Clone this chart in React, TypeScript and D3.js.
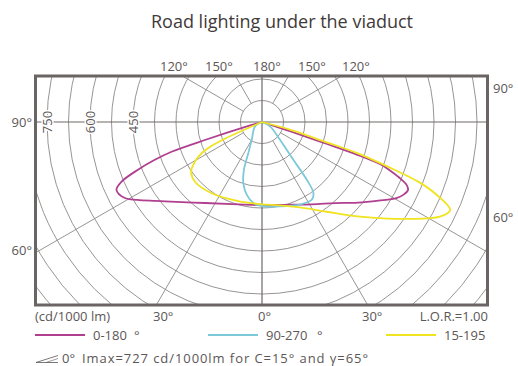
import * as d3 from 'd3';

// polar intensity data, gamma in degrees from nadir, intensity in cd/1000lm
const magLeftGamma = [0, 20, 35, 45, 53.5, 58, 61, 65, 67, 69, 70.5, 71.8, 72.5, 73.8, 75];
const magLeftI = [290, 305, 345, 395, 463, 513, 547, 560, 532, 462, 400, 332, 209, 37, 0];
const magRightGamma = [0, 15, 31, 42, 50, 56, 60.5, 63, 65, 66.5, 68, 69.5, 70.3, 71, 71.3, 71.8, 73];
const magRightI = [292, 299, 335, 381, 437, 490, 539, 556, 562, 550, 515, 470, 442, 354, 231, 108, 0];

const cyanLeftGamma = [0, 6.1, 11.9, 17, 20.7, 23.8, 30.2, 57.8, 70];
const cyanLeftI = [293, 284, 259, 223, 178, 118, 71, 29, 0];
const cyanRightGamma = [0, 12, 24.7, 32.6, 35.9, 37.8, 39.7, 45.5, 61.2, 70];
const cyanRightI = [293, 301, 317, 322, 306, 255, 171, 88, 32, 0];

const yelLeftGamma = [0, 16.7, 35.2, 48.3, 55, 58, 60.5, 62.6, 64.3, 65.7, 66];
const yelLeftI = [287, 288, 304, 313, 302, 283, 262, 237, 205, 150, 0];
const yelRightGamma = [0, 12, 24, 35.8, 46, 56.8, 62, 64.9, 67.6, 69.1, 70.3, 71.9, 72.6, 74.7, 76];
const yelRightI = [290, 297, 326, 386, 475, 617, 703, 725, 652, 583, 479, 352, 229, 106, 0];

const ringValues = d3.range(75, 1126, 75);
const ringLabels = [450, 600, 750];
const spokeAngles = [30, 60, 120, 150];

const legendItems = [
  { name: '0-180', deg: true, color: '#b0408f' },
  { name: '90-270', deg: true, color: '#7ec9d9' },
  { name: '15-195', deg: false, color: '#f0e31f' },
];

const W = 518;
const H = 366;
const box = { x0: 35.5, y0: 76, x1: 487.5, y1: 305 };
const cx = 262;
const cy = 122;
const rad = Math.PI / 180;
const textColor = '#5c5656';
const font = '"Open Sans", sans-serif';

const rScale = d3.scaleLinear().domain([0, 750]).range([0, 215]);

type Pt = { a: number; v: number };

function buildCurve(lg: number[], li: number[], rg: number[], ri: number[]): Pt[] {
  const left = lg.map((g, i) => ({ a: Math.PI + g * rad, v: li[i] })).reverse();
  const right = rg.slice(1).map((g, i) => ({ a: Math.PI - g * rad, v: ri[i + 1] }));
  return [...left, ...right];
}

const radial = d3.lineRadial<Pt>()
  .angle(d => d.a)
  .radius(d => rScale(d.v))
  .curve(d3.curveCatmullRom.alpha(0.5));

const curves = [
  { color: legendItems[0].color, pts: buildCurve(magLeftGamma, magLeftI, magRightGamma, magRightI) },
  { color: legendItems[1].color, pts: buildCurve(cyanLeftGamma, cyanLeftI, cyanRightGamma, cyanRightI) },
  { color: legendItems[2].color, pts: buildCurve(yelLeftGamma, yelLeftI, yelRightGamma, yelRightI) },
];

export default function App() {
  const legendX = [35, 208, 386];
  return (
    <svg width={W} height={H} style={{ position: 'absolute', left: 0, top: 0 }} fontFamily={font}>
      <defs>
        <clipPath id="boxclip">
          <rect x={box.x0} y={box.y0} width={box.x1 - box.x0} height={box.y1 - box.y0} />
        </clipPath>
      </defs>
      <text x={282} y={28} textAnchor="middle" fontSize={18} fill="#3f3a3a">Road lighting under the viaduct</text>

      <g clipPath="url(#boxclip)">
        {ringValues.map(v => (
          <circle key={v} cx={cx} cy={cy} r={rScale(v)} fill="none" stroke="#8c8888" strokeWidth={0.9} />
        ))}
        {spokeAngles.flatMap(g => [-1, 1].map(s => (
          <line key={g + '_' + s}
            x1={cx + s * rScale(75) * Math.sin(g * rad)} y1={cy + rScale(75) * Math.cos(g * rad)}
            x2={cx + s * rScale(1200) * Math.sin(g * rad)} y2={cy + rScale(1200) * Math.cos(g * rad)}
            stroke="#8c8888" strokeWidth={0.9} />
        )))}
        <line x1={box.x0} x2={box.x1} y1={cy} y2={cy} stroke="#6e6868" strokeWidth={1.2} />
        <line x1={cx} x2={cx} y1={box.y0} y2={box.y1} stroke="#6e6868" strokeWidth={1.2} />
        {ringLabels.map(v => (
          <text key={v} transform={`translate(${cx - rScale(v)},${cy}) rotate(-90)`} textAnchor="middle"
            dominantBaseline="central" fontSize={13} fill={textColor}
            stroke="#fff" strokeWidth={3} paintOrder="stroke">{v}</text>
        ))}
        <g transform={`translate(${cx},${cy})`}>
          {curves.map((c, i) => (
            <path key={i} d={radial(c.pts) || ''} fill="none" stroke={c.color} strokeWidth={1.8} strokeLinejoin="round" />
          ))}
        </g>
      </g>
      <rect x={box.x0} y={box.y0} width={box.x1 - box.x0} height={box.y1 - box.y0} fill="none" stroke="#6b6464" strokeWidth={3} />

      <g fontSize={13} fill={textColor}>
        <text x={160} y={71}>120°</text>
        <text x={205} y={71}>150°</text>
        <text x={253} y={71}>180°</text>
        <text x={298} y={71}>150°</text>
        <text x={342} y={71}>120°</text>
        <text x={32} y={127} textAnchor="end">90°</text>
        <text x={32} y={255} textAnchor="end">60°</text>
        <text x={493} y={93}>90°</text>
        <text x={493} y={222}>60°</text>
        <text x={35} y={321}>(cd/1000 lm)</text>
        <text x={153} y={321}>30°</text>
        <text x={258} y={321}>0°</text>
        <text x={362} y={321}>30°</text>
        <text x={488} y={321} textAnchor="end">L.O.R.=1.00</text>
      </g>

      {legendItems.map((d, i) => (
        <g key={d.name} fontSize={13} fill={textColor}>
          <line x1={legendX[i]} x2={legendX[i] + 50} y1={335} y2={335} stroke={d.color} strokeWidth={2} />
          <text x={legendX[i] + 58} y={340}>{d.name}</text>
          {d.deg && <text x={legendX[i] + (i === 0 ? 99 : 109)} y={340}>°</text>}
        </g>
      ))}

      <g fill={textColor} fontSize={13}>
        <path d="M58,355.5 L36,362.5 L58,362.5" fill="none" stroke={textColor} strokeWidth={0.8} />
        <path d="M46,362.5 L58,358.5" fill="none" stroke={textColor} strokeWidth={0.6} />
        <text x={62} y={363}>0°</text>
        <text x={82} y={363} textLength={286} lengthAdjust="spacing">Imax=727 cd/1000lm for C=15° and γ=65°</text>
      </g>
    </svg>
  );
}
